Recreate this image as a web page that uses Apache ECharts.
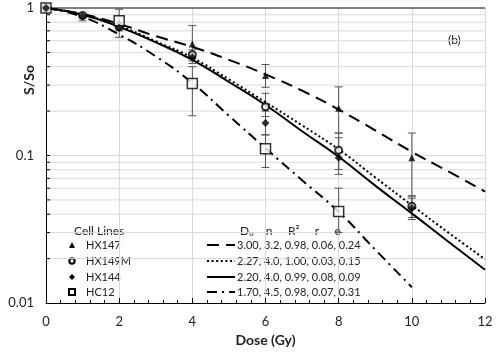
<!DOCTYPE html>
<html>
<head>
<meta charset="utf-8">
<script src="https://cdn.jsdelivr.net/npm/echarts@6/dist/echarts.min.js"></script>
<style>
  html, body { margin: 0; padding: 0; background: #fff; }
  #chart { width: 500px; height: 352px; }
</style>
</head>
<body>
<div id="chart"></div>
<script>
// survival curves, panel (b)
const doses = [0, 1, 2, 3, 4, 5, 6, 7, 8, 9, 10, 11, 12];
const dosesHC12 = [0, 1, 2, 3, 4, 5, 6, 7, 8, 9, 10];
const fitHX147 = [1, 0.91, 0.78, 0.645, 0.545, 0.445, 0.355, 0.275, 0.205, 0.148, 0.106, 0.078, 0.057];
const fitHX149M = [1, 0.9, 0.755, 0.595, 0.46, 0.328, 0.23, 0.16, 0.11, 0.071, 0.046, 0.03, 0.0198];
const fitHX144 = [1, 0.9, 0.745, 0.585, 0.445, 0.315, 0.22, 0.146, 0.098, 0.0625, 0.0405, 0.026, 0.0168];
const fitHC12 = [1, 0.87, 0.66, 0.47, 0.31, 0.186, 0.112, 0.068, 0.0415, 0.023, 0.0128];

const ptDoses = [0, 1, 2, 4, 6, 8, 10];
const ptHX147 = [1, 0.89, 0.8, 0.571, 0.348, 0.209, 0.0966];
const ptHX149M = [1, 0.89, 0.745, 0.482, 0.214, 0.1086, 0.0453];
const ptHX144 = [1, 0.88, 0.735, 0.464, 0.166, 0.0965, 0.044];
const ptDosesHC12 = [0, 2, 4, 6, 8];
const ptHC12 = [1, 0.818, 0.308, 0.111, 0.0417];

// [dose, low, high]
const errHX147 = [[4, 0.42, 0.76], [6, 0.29, 0.414], [8, 0.142, 0.292], [10, 0.0533, 0.142]];
const errHX149M = [[4, 0.455, 0.52], [6, 0.184, 0.264], [8, 0.0805, 0.132], [10, 0.0368, 0.0514]];
const errHX144 = [[1, 0.818, 0.916], [2, 0.632, 0.8], [4, 0.437, 0.49], [6, 0.138, 0.2], [8, 0.0745, 0.142], [10, 0.038, 0.053]];
const errHC12 = [[2, 0.7, 0.98], [4, 0.186, 0.4], [6, 0.083, 0.138], [8, 0.03, 0.06]];

const gridVals = [0.02, 0.03, 0.04, 0.05, 0.06, 0.07, 0.08, 0.09, 0.1,
  0.2, 0.3, 0.4, 0.5, 0.6, 0.7, 0.8, 0.9, 1];

const cellLines = ['HX147', 'HX149M', 'HX144', 'HC12'];
const fitLabels = ['3.00, 3.2, 0.98, 0.06, 0.24', '2.27, 4.0, 1.00, 0.03, 0.15',
  '2.20, 4.0, 0.99, 0.08, 0.09', '1.70, 4.5, 0.98, 0.07, 0.31'];
const xTicks = ['0', '2', '4', '6', '8', '10', '12'];

const FONT = 'Lato, "Open Sans", sans-serif';
const dashTypes = [[12, 7], [2, 2.6], 'solid', [10, 5, 2, 5]];

const chart = echarts.init(document.getElementById('chart'));

function pairs(xs, ys) {
  return ys.map((v, i) => [xs[i], v]);
}

function renderGrid(params, api) {
  const v = api.value(1);
  const a = api.coord([0, v]);
  const b = api.coord([12, v]);
  return {
    type: 'group',
    children: [
      { type: 'line', shape: { x1: a[0], y1: a[1], x2: b[0], y2: b[1] },
        style: { stroke: v === 1 ? '#000' : '#d9d9d9', lineWidth: 1 } },
      { type: 'line', shape: { x1: a[0], y1: a[1], x2: a[0] + 4, y2: a[1] },
        style: { stroke: '#000', lineWidth: 1 } }
    ]
  };
}

function renderErr(params, api) {
  const lo = api.coord([api.value(0), api.value(1)]);
  const hi = api.coord([api.value(0), api.value(2)]);
  const w = 4;
  const st = { stroke: '#555', lineWidth: 1 };
  return {
    type: 'group',
    children: [
      { type: 'line', shape: { x1: lo[0], y1: lo[1], x2: hi[0], y2: hi[1] }, style: st },
      { type: 'line', shape: { x1: lo[0] - w, y1: lo[1], x2: lo[0] + w, y2: lo[1] }, style: st },
      { type: 'line', shape: { x1: hi[0] - w, y1: hi[1], x2: hi[0] + w, y2: hi[1] }, style: st }
    ]
  };
}

function errSeries(data) {
  return {
    type: 'custom', renderItem: renderErr, data: data,
    encode: { x: 0, y: [1, 2] }, z: 3, silent: true
  };
}

function fitSeries(data, i) {
  return {
    type: 'line', data: data, smooth: true, showSymbol: false, z: 4,
    lineStyle: { color: '#000', width: 2, type: dashTypes[i] }, silent: true
  };
}

// legend drawn by hand
const legendEls = [];
const rowY = [245, 261, 277, 292];
legendEls.push({ type: 'text', left: 74, top: 225,
  style: { text: 'Cell Lines', fill: '#222', font: '12px ' + FONT } });
legendEls.push({ type: 'text', left: 240, top: 225,
  style: { text: 'D{s|o}    n     R²     r     e', fill: '#222', font: '12px ' + FONT,
    rich: { s: { fontSize: 8, verticalAlign: 'bottom', padding: [6, 0, 0, 0] } } } });
const mk = [
  { type: 'polygon', shape: { points: [[72, 242], [69, 248], [75, 248]] }, style: { fill: '#000' } },
  { type: 'circle', shape: { cx: 72, cy: 261, r: 2.7 }, style: { fill: '#fff', stroke: '#000', lineWidth: 2 } },
  { type: 'polygon', shape: { points: [[72, 274], [75, 277], [72, 280], [69, 277]] }, style: { fill: '#000' } },
  { type: 'rect', shape: { x: 69, y: 289, width: 6, height: 6 }, style: { fill: '#fff', stroke: '#000', lineWidth: 2 } }
];
cellLines.forEach((name, i) => {
  legendEls.push(mk[i]);
  legendEls.push({ type: 'text', x: 86, y: rowY[i],
    style: { text: name, fill: '#222', font: '11px ' + FONT, verticalAlign: 'middle' } });
  legendEls.push({ type: 'line', shape: { x1: 207, y1: rowY[i], x2: 235, y2: rowY[i] },
    style: { stroke: '#000', lineWidth: 2, lineDash: dashTypes[i] === 'solid' ? null : dashTypes[i] } });
  legendEls.push({ type: 'text', x: 237, y: rowY[i],
    style: { text: fitLabels[i], fill: '#222', font: '11px ' + FONT, verticalAlign: 'middle' } });
});
legendEls.push({ type: 'text', left: 448, top: 34,
  style: { text: '(b)', fill: '#222', font: '12px ' + FONT } });
legendEls.push({ type: 'text', x: 29, y: 80, rotation: Math.PI / 2,
  style: { text: 'S/So', fill: '#222', font: 'bold 14px ' + FONT, align: 'center', verticalAlign: 'middle' } });

const option = {
  backgroundColor: '#fff',
  animation: false,
  grid: { left: 46, right: 15, top: 8, bottom: 49 },
  xAxis: {
    type: 'value', min: 0, max: 12, interval: 2,
    name: 'Dose (Gy)', nameLocation: 'middle', nameGap: 30,
    nameTextStyle: { fontFamily: FONT, fontSize: 14, fontWeight: 'bold', color: '#222' },
    axisLine: { lineStyle: { color: '#000', width: 1 } },
    axisTick: { inside: true, length: 5, lineStyle: { color: '#000' } },
    minorTick: { show: true, splitNumber: 5, length: 3, lineStyle: { color: '#000' } },
    axisLabel: { fontFamily: FONT, fontSize: 13, color: '#222', margin: 12,
      formatter: v => xTicks[v / 2] },
    splitLine: { show: true, lineStyle: { color: '#d9d9d9' } }
  },
  yAxis: {
    type: 'log', logBase: 10, min: 0.01, max: 1,
    axisLine: { show: true, lineStyle: { color: '#000', width: 1 } },
    axisTick: { show: true, inside: true, length: 4, lineStyle: { color: '#000' } },
    axisLabel: { fontFamily: FONT, fontSize: 13, color: '#222', margin: 12,
      formatter: v => String(v) },
    splitLine: { show: false }
  },
  graphic: legendEls,
  series: [
    { type: 'custom', renderItem: renderGrid, data: gridVals.map(v => [0, v]),
      encode: { x: 0, y: 1 }, z: 1, silent: true },
    errSeries(errHX147), errSeries(errHX149M), errSeries(errHX144), errSeries(errHC12),
    fitSeries(pairs(doses, fitHX147), 0),
    fitSeries(pairs(doses, fitHX149M), 1),
    fitSeries(pairs(doses, fitHX144), 2),
    fitSeries(pairs(dosesHC12, fitHC12), 3),
    { name: 'HX147', type: 'scatter', data: pairs(ptDoses, ptHX147), symbol: 'triangle', symbolSize: 7,
      itemStyle: { color: '#000' }, z: 5 },
    { name: 'HX149M', type: 'scatter', data: pairs(ptDoses, ptHX149M), symbol: 'circle', symbolSize: 7,
      itemStyle: { color: '#fff', borderColor: '#000', borderWidth: 2 }, z: 5 },
    { name: 'HX144', type: 'scatter', data: pairs(ptDoses, ptHX144), symbol: 'diamond', symbolSize: 8,
      itemStyle: { color: '#000' }, z: 6 },
    { name: 'HC12', type: 'scatter', data: pairs(ptDosesHC12, ptHC12), symbol: 'rect', symbolSize: 10,
      itemStyle: { color: '#fff', borderColor: '#000', borderWidth: 1.5 }, z: 5 }
  ]
};

chart.setOption(option);
</script>
</body>
</html>
